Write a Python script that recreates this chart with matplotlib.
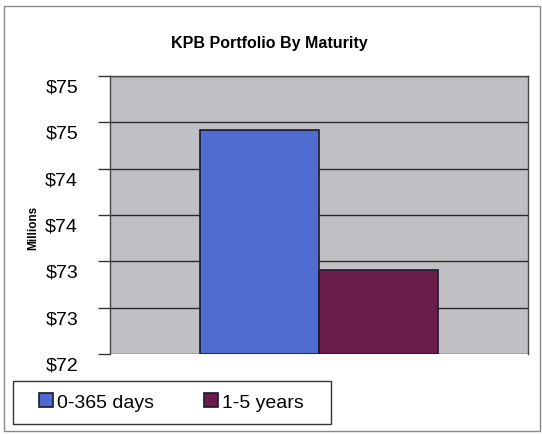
import matplotlib
matplotlib.use("Agg")
import matplotlib.pyplot as plt
from matplotlib.patches import Rectangle
from matplotlib.transforms import ScaledTranslation

# dados (em milhões)
series = ["0-365 days", "1-5 years"]
valores = [74.42, 72.91]
cores = ["#4f6dd0", "#6b1d4b"]
ticks = [72.0, 72.5, 73.0, 73.5, 74.0, 74.5, 75.0]
tick_labels = ["$72", "$73", "$73", "$74", "$74", "$75", "$75"]

plt.rcParams["font.family"] = ["Liberation Sans", "DejaVu Sans"]

fig = plt.figure(figsize=(5.42, 4.35), dpi=100)
ax = fig.add_axes([0.203, 0.184, 0.771, 0.639])
ax.set_facecolor("#c0c0c4")

# moldura da figura
fig.patches.append(Rectangle((0.007, 0.007), 0.989, 0.977, transform=fig.transFigure,
                             fill=False, edgecolor="#888888", linewidth=1))

xs = [-0.5, 0.5]
for x, v, c, nome in zip(xs, valores, cores, series):
    ax.bar(x, v - ticks[0], bottom=ticks[0], width=1.0, color=c,
           edgecolor="#1a1a2a", linewidth=1.2, label=nome, zorder=3)

ax.set_xlim(-1.75, 1.75)
ax.set_ylim(ticks[0], ticks[-1])
ax.set_yticks(ticks)
ax.set_yticklabels(tick_labels, fontsize=14)
ax.set_xticks([])
ax.yaxis.grid(True, color="#2a2a2a", linewidth=1.0, zorder=1)
ax.set_axisbelow(True)
ax.tick_params(axis="y", length=9, width=1, pad=14, color="#333333")
for lbl in ax.get_yticklabels():
    lbl.set_transform(lbl.get_transform() + ScaledTranslation(0, -0.09, fig.dpi_scale_trans))
for s in ax.spines.values():
    s.set_color("#444444")
    s.set_linewidth(1.0)
ax.spines["bottom"].set_visible(False)

fig.text(0.497, 0.90, "KPB Portfolio By Maturity", ha="center", va="center",
         fontsize=11.5, fontweight="bold")
fig.text(0.062, 0.476, "Millions", ha="center", va="center", rotation=90,
         fontsize=8.5, fontweight="bold")

# caixa da legenda
fig.patches.append(Rectangle((0.024, 0.023), 0.587, 0.099, transform=fig.transFigure,
                             fill=False, edgecolor="#333333", linewidth=1.0))
leg = fig.legend(loc="center left", bbox_to_anchor=(0.072, 0.073), ncol=2,
                 fontsize=14, frameon=False, borderpad=0,
                 handlelength=0.7, handleheight=0.7, handletextpad=0.2,
                 columnspacing=2.6, borderaxespad=0)

plt.savefig("out.png", dpi=100)
plt.close()
